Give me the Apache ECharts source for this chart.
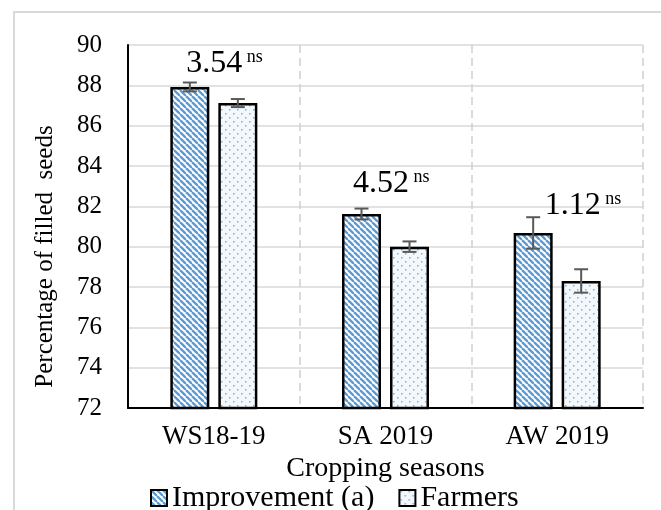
<!DOCTYPE html>
<html><head><meta charset="utf-8">
<script src="https://cdn.jsdelivr.net/npm/echarts@6/dist/echarts.min.js"></script>
<style>html,body{margin:0;padding:0;background:#fff}#c{width:661px;height:510px}</style>
</head><body><div id="c"></div>
<script>
// ---- data ----
const categories = ['WS18-19', 'SA 2019', 'AW 2019'];
const improvementValues = [87.92, 81.62, 80.68];
const improvementErrors = [0.22, 0.27, 0.78];
const farmersValues = [87.12, 80.0, 78.3];
const farmersErrors = [0.2, 0.26, 0.58];
const annotationTexts = ['3.54', '4.52', '1.12'];
const annotationMarks = ['ns', 'ns', 'ns'];
const annotationLevels = [89.1, 83.15, 82.05];
const yMin = 72, yMax = 90, yStep = 2;

// ---- styles ----
const FONT = 'Liberation Serif';
const BAR_W = 39, BAR_GAP = 9;
const annotationDx = [-28, -33, -13];

function stripePattern() {
  const s = 6;
  const c = document.createElement('canvas'); c.width = s; c.height = s;
  const g = c.getContext('2d');
  g.fillStyle = '#ffffff'; g.fillRect(0, 0, s, s);
  g.strokeStyle = '#5b9bd5'; g.lineWidth = 2.3;
  for (const o of [-s, 0, s]) { g.beginPath(); g.moveTo(o, 0); g.lineTo(o + s, s); g.stroke(); }
  return c;
}
function dotPattern() {
  const s = 8;
  const c = document.createElement('canvas'); c.width = s; c.height = s;
  const g = c.getContext('2d');
  g.fillStyle = '#f2f8fc'; g.fillRect(0, 0, s, s);
  g.fillStyle = '#7eaed9';
  g.fillRect(1, 1, 1.5, 1.5); g.fillRect(5, 5, 1.5, 1.5);
  return c;
}
const stripe = { image: stripePattern(), repeat: 'repeat' };
const dots = { image: dotPattern(), repeat: 'repeat' };

function errorSeries(values, errors, sign) {
  return {
    type: 'custom', z: 10, silent: true,
    data: values.map((v, i) => [i, v - errors[i], v + errors[i]]),
    encode: { x: 0, y: [1, 2] },
    renderItem(params, api) {
      const lo = api.coord([api.value(0), api.value(1)]);
      const hi = api.coord([api.value(0), api.value(2)]);
      const x = lo[0] + sign * (BAR_W + BAR_GAP) / 2;
      const st = { stroke: '#595959', lineWidth: 2 };
      return { type: 'group', children: [
        { type: 'line', shape: { x1: x, y1: lo[1], x2: x, y2: hi[1] }, style: st },
        { type: 'line', shape: { x1: x - 7, y1: lo[1], x2: x + 7, y2: lo[1] }, style: st },
        { type: 'line', shape: { x1: x - 7, y1: hi[1], x2: x + 7, y2: hi[1] }, style: st }
      ] };
    }
  };
}

const chart = echarts.init(document.getElementById('c'), null, { renderer: 'canvas' });
chart.setOption({
  backgroundColor: '#ffffff',
  animation: false,
  graphic: [{ type: 'rect', shape: { x: 14, y: 12, width: 800, height: 700 },
    style: { fill: 'none', stroke: '#d9d9d9', lineWidth: 2 }, silent: true, z: -1 }],
  grid: { left: 128, right: 18, top: 45, bottom: 102, containLabel: false, outerBoundsMode: 'none' },
  legend: {
    data: ['Improvement (a)', 'Farmers'],
    left: 145, top: 478, itemWidth: 16, itemHeight: 16, itemGap: 24,
    icon: 'rect',
    textStyle: { fontFamily: FONT, fontSize: 30, color: '#000' },
    itemStyle: { borderColor: '#000', borderWidth: 2 }
  },
  xAxis: {
    type: 'category', data: categories,
    name: 'Cropping seasons', nameLocation: 'middle', nameGap: 41,
    nameTextStyle: { fontFamily: FONT, fontSize: 28, color: '#000' },
    axisLine: { lineStyle: { color: '#000', width: 2 } },
    axisTick: { show: false },
    axisLabel: { fontFamily: FONT, fontSize: 27, color: '#000', margin: 15 },
    splitLine: { show: true, lineStyle: { color: '#cfcfcf', width: 1.5, type: [8, 5] } }
  },
  yAxis: {
    type: 'value', min: yMin, max: yMax, interval: yStep,
    name: 'Percentage of filled  seeds', nameLocation: 'middle', nameGap: 70,
    nameTextStyle: { fontFamily: FONT, fontSize: 25, color: '#000', padding: [0, 60, 0, 0] },
    axisLine: { show: true, lineStyle: { color: '#000', width: 2 } },
    axisTick: { show: false },
    axisLabel: { fontFamily: FONT, fontSize: 25, color: '#000', margin: 26 },
    splitLine: { lineStyle: { color: '#d9d9d9', width: 1.5 } }
  },
  series: [
    { type: 'bar', name: 'Improvement (a)', data: improvementValues, barWidth: BAR_W,
      barGap: (BAR_GAP / BAR_W * 100) + '%',
      itemStyle: { color: stripe, borderColor: '#000', borderWidth: 2.5 } },
    { type: 'bar', name: 'Farmers', data: farmersValues, barWidth: BAR_W,
      itemStyle: { color: dots, borderColor: '#000', borderWidth: 2.5 } },
    errorSeries(improvementValues, improvementErrors, -1),
    errorSeries(farmersValues, farmersErrors, 1),
    { type: 'scatter', silent: true, symbolSize: 1, itemStyle: { color: 'transparent', opacity: 1 }, z: 20,
      data: annotationTexts.map((t, i) => ({
        value: [i, annotationLevels[i]],
        label: { offset: [annotationDx[i], 0],
          formatter: '{v|' + t + '}{s| ' + annotationMarks[i] + '}' }
      })),
      label: { show: true, position: 'right', distance: 0, color: '#000', opacity: 1, textBorderWidth: 0,
        rich: {
          v: { fontFamily: FONT, fontSize: 32, color: '#000', lineHeight: 32, textBorderWidth: 0 },
          s: { fontFamily: FONT, fontSize: 18, color: '#000', lineHeight: 18, verticalAlign: 'top', padding: [1, 0, 0, 0], textBorderWidth: 0 }
        } } }
  ]
});
</script></body></html>
